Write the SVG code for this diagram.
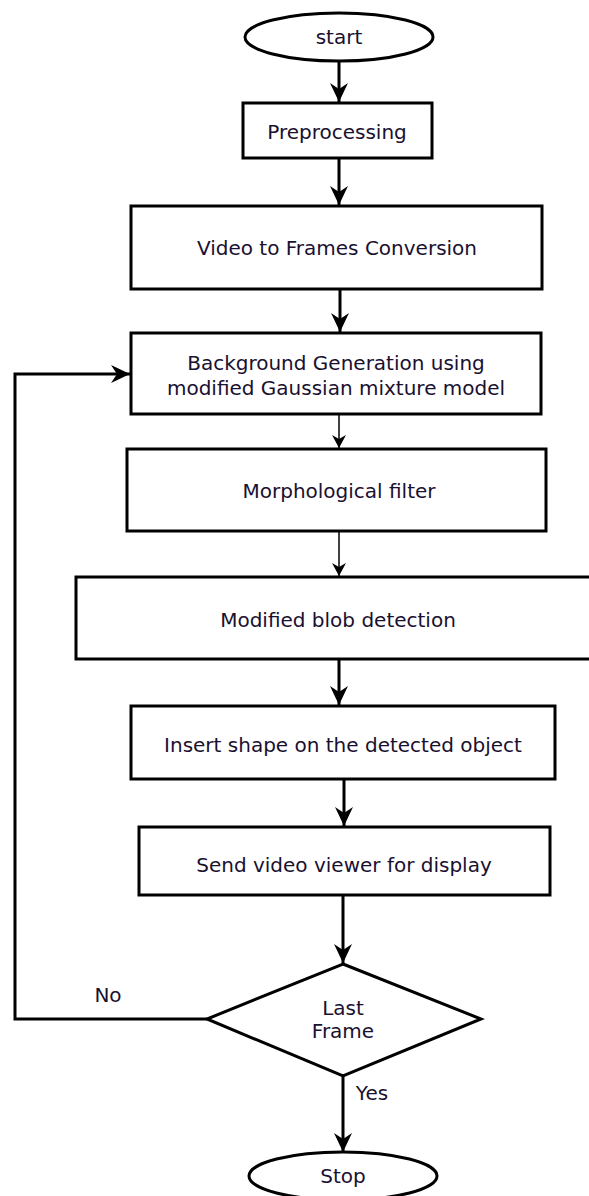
<svg xmlns="http://www.w3.org/2000/svg" width="589" height="1196" viewBox="0 0 589 1196">
<style>
.box{fill:#fff;stroke:#000;stroke-width:3}
.t{font-family:"DejaVu Sans",Verdana,sans-serif;font-size:20px;fill:#1a1030;text-anchor:middle}
.c{fill:none;stroke:#000;stroke-width:3}
.cthin{fill:none;stroke:#000;stroke-width:1.5}
</style>
<defs>
<marker id="ah" viewBox="-20 -10 21 20" refX="0" refY="0" markerWidth="21" markerHeight="20" markerUnits="userSpaceOnUse" orient="auto">
<path d="M0,0 L-19,-9 L-13,0 L-19,9 Z" fill="#000"/>
</marker>
<marker id="ahs" viewBox="-14 -8 15 16" refX="0" refY="0" markerWidth="15" markerHeight="16" markerUnits="userSpaceOnUse" orient="auto">
<path d="M0,0 L-13,-7 L-9,0 L-13,7 Z" fill="#000"/>
</marker>
</defs>
<rect width="589" height="1196" fill="#fff"/>
<g id="connectors">
<line class="c" x1="339" y1="62" x2="339" y2="102" marker-end="url(#ah)"/>
<line class="c" x1="339" y1="158" x2="339" y2="205" marker-end="url(#ah)"/>
<line class="c" x1="340" y1="289" x2="340" y2="332" marker-end="url(#ah)"/>
<line class="cthin" x1="339" y1="414" x2="339" y2="448" marker-end="url(#ahs)"/>
<line class="cthin" x1="339" y1="532" x2="339" y2="576" marker-end="url(#ahs)"/>
<line class="c" x1="339" y1="659" x2="339" y2="705" marker-end="url(#ah)"/>
<line class="c" x1="344" y1="779" x2="344" y2="826" marker-end="url(#ah)"/>
<line class="c" x1="343" y1="895" x2="343" y2="963" marker-end="url(#ah)"/>
<line class="c" x1="343" y1="1076" x2="343" y2="1152" marker-end="url(#ah)"/>
<polyline class="c" points="207,1019 15,1019 15,374 130,374" marker-end="url(#ah)"/>
<text class="t" x="108" y="1002">No</text>
<text class="t" x="372" y="1100">Yes</text>
</g>
<g id="start">
<ellipse class="box" cx="339" cy="37" rx="94" ry="24"/>
<text class="t" x="339" y="44">start</text>
</g>
<g id="preprocessing">
<rect class="box" x="243" y="103" width="189" height="55"/>
<text class="t" x="337" y="139">Preprocessing</text>
</g>
<g id="video">
<rect class="box" x="131" y="206" width="411" height="83"/>
<text class="t" x="337" y="255">Video to Frames Conversion</text>
</g>
<g id="background">
<rect class="box" x="131" y="333" width="410" height="81"/>
<text class="t" x="336" y="370">Background Generation using</text>
<text class="t" x="336" y="395">modified Gaussian mixture model</text>
</g>
<g id="morph">
<rect class="box" x="127" y="449" width="419" height="82"/>
<text class="t" x="339" y="498">Morphological filter</text>
</g>
<g id="blob">
<rect class="box" x="76" y="577" width="520" height="82"/>
<text class="t" x="338" y="627">Modified blob detection</text>
</g>
<g id="insert">
<rect class="box" x="131" y="706" width="424" height="73"/>
<text class="t" x="343" y="752">Insert shape on the detected object</text>
</g>
<g id="send">
<rect class="box" x="139" y="827" width="411" height="68"/>
<text class="t" x="344" y="872">Send video viewer for display</text>
</g>
<g id="decision">
<polygon class="box" points="343,964 481,1019 343,1076 207,1019"/>
<text class="t" x="343" y="1015">Last</text>
<text class="t" x="343" y="1038">Frame</text>
</g>
<g id="stop">
<ellipse class="box" cx="343" cy="1176" rx="94" ry="24"/>
<text class="t" x="343" y="1183">Stop</text>
</g>
</svg>
